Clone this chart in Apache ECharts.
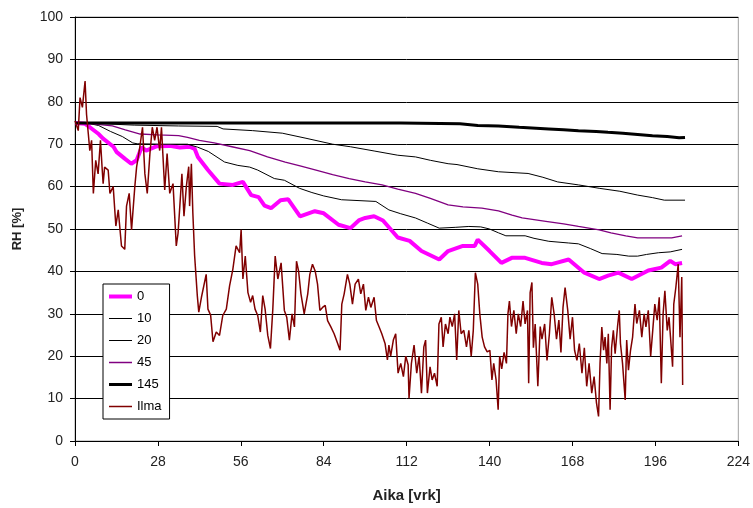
<!DOCTYPE html>
<html>
<head>
<meta charset="utf-8">
<title>RH</title>
<script src="https://cdn.jsdelivr.net/npm/echarts@6/dist/echarts.min.js"></script>
<style>
  html, body { margin: 0; padding: 0; background: #fff; }
  #chart { width: 753px; height: 508px; }
</style>
</head>
<body>
<div id="chart"></div>
<script>
// Relative humidity [%] against age [days] at depths 0, 10, 20, 45 and 145 mm, plus outdoor air.
var seriesNames = ['0', '10', '20', '45', '145', 'Ilma'];

var rh0 = [[0,75],[3.4,74.8],[5,74],[8,72.4],[9.5,71.3],[13,69.4],[14,68.2],[16.8,66.6],[19,65.4],[20.8,66.2],[22.5,69.3],[24,68.5],[27.5,69.5],[32,69.6],[35.4,69.2],[38.7,69.4],[40.4,68.9],[41.5,67],[44.9,63.9],[48.8,60.7],[53.3,60.4],[56.7,61.1],[59.5,58],[62,57.5],[64,55.5],[66.2,54.9],[69.4,56.8],[72,57],[76,53],[81,54.2],[84,53.7],[89,51],[93,50.2],[96,52.1],[98,52.6],[101,53],[104,52],[109,48],[113,47.2],[117,44.8],[123,42.8],[126,44.8],[131,46],[135,46],[136,47.5],[140,44.8],[144,42],[147.5,43.2],[152,43.2],[157.6,42],[161,41.7],[166.7,42.8],[172,39.7],[177,38.2],[180,39],[183.5,39.7],[188,38.2],[193.6,40.2],[198,40.9],[201,42.5],[202.7,41.7],[205,42]];

var rh10 = [[0,75],[10,74.8],[20,74.5],[35,74.3],[48,74.2],[50,73.6],[60,73.2],[70,72.6],[78,71.4],[87,70],[93,69.4],[101,68.4],[109,67.4],[115,67],[120,66.2],[126,65.4],[129,65.2],[136,64.2],[143,63.5],[153,63.1],[158,62.2],[163,61.1],[170,60.4],[177,59.6],[184,58.9],[190,58],[195,57.4],[199,56.8],[206,56.8]];

var rh20 = [[0,75],[4,75],[8,74.4],[12,73],[16,71.8],[19.5,70.3],[21,70.1],[30,70],[38,70],[41.4,69.3],[45,68.3],[50.5,65.8],[55,65],[59,64.6],[61.7,63.9],[67.3,61.9],[70.7,61.5],[75.8,59.6],[80,58.6],[84,57.8],[90,56.9],[101.6,56.5],[106,54.5],[110,53.6],[115,52.6],[119,51.4],[123,50.2],[128.6,50.4],[133,50.6],[137,50.5],[140,50],[143,49.1],[145.5,48.4],[152,48.4],[155,47.8],[160,47.1],[166.7,46.7],[170,46.5],[174,45.4],[178,44.2],[183,44],[187,43.6],[190,43.6],[193,44],[197,44.4],[201,44.6],[205,45.2]];

var rh45 = [[0,75],[6,74.8],[12.6,74.3],[17,73.4],[22,72.4],[28,72.2],[35,72],[38,71.6],[42,70.9],[47,70.3],[53,69.4],[59,68.5],[65,67],[71,65.8],[76,64.9],[81.4,63.9],[87,62.8],[92.6,61.9],[98,61.1],[103.7,60.4],[109,59.4],[115,58.4],[120,57.2],[126,55.7],[131,55.2],[137.4,54.9],[143,54.3],[147.6,53.3],[151,52.6],[159,51.8],[165,51.2],[170,50.6],[177,49.8],[181,49.1],[186,48.4],[190,47.9],[196,47.9],[201.5,47.9],[205,48.4]];

var rh145 = [[0,75],[40,75],[80,75],[110,75],[130,74.8],[136,74.4],[143,74.3],[150,74],[160,73.6],[165,73.4],[170,73.2],[176,73],[180,72.8],[185,72.6],[190,72.3],[195,72],[200,71.8],[204,71.5],[206,71.6]];

var rhIlma = [[0,75.5],[1.1,73.2],[1.7,81],[2.5,78.7],[3.4,84.9],[3.9,77],[4.5,72.4],[5,68.5],[5.6,70.9],[6.2,58.4],[7,66.2],[7.8,63],[8.6,70.9],[9.2,63.9],[9.5,60.7],[10,64.6],[11.2,63.9],[11.8,58.4],[12.9,60],[13.8,50.7],[14.6,54.5],[15.7,46],[16.8,45.2],[17.4,55.4],[18.3,58.4],[19.1,49.8],[20.2,60],[20.8,64.6],[21.9,69.4],[22.8,74],[23.6,63],[24.4,58.4],[25.3,67.8],[26.1,74],[26.9,70.9],[27.7,74],[28.6,68.5],[29.2,74],[30.3,59.2],[31.1,67.8],[32,58.4],[33.1,60.7],[34.2,46],[34.8,49],
[35.4,55.4],[36.1,63],[36.8,53],[37.6,60],[38.4,64.7],[38.7,55.4],[39.3,65.4],[39.8,53.7],[40.4,43.7],[41.3,34.3],[41.8,30.4],[42.7,33.9],[44.3,39.3],[44.9,31.1],[45.8,29.7],[46.6,23.4],[47.7,25.7],[48.8,24.9],[49.9,29.6],[51.1,31.1],[52.2,36.6],[53.3,40.5],[54.4,46],[55.6,44.4],[56.1,49.8],[56.7,38.2],[57.5,43.6],[58.4,35],[59.3,32.7],[60,34.3],[60.8,31.1],[61.7,29.6],[62.6,25.7],[63.4,34.3],[64.2,31.1],[65.1,24.9],[66,21.8],[66.8,31.1],[67.6,43.6],[68.5,38.2],[69.6,42],
[70.7,30.8],[71.5,29.2],[72.4,23.8],[73.3,30],[74.1,26.9],[74.8,42.4],[75.5,40.1],[76.3,34.7],[77.4,30],[78.6,34.7],[79.3,39.3],[80.2,41.7],[81.1,40.1],[81.9,37],[82.7,30.8],[83.6,31.5],[84.5,32],[85.3,28.4],[86.4,26.9],[87.5,25.3],[88.7,23],[89.5,21.4],[90.1,32.3],[90.9,34.7],[92,39.3],[92.8,37],[93.7,32.3],[94.6,37],[95.7,38.2],[96.5,34.7],[97.4,37],[98.2,30.8],[99.1,33.9],[99.9,31.5],[101,33.9],[101.8,28.4],[102.7,26.9],[103.6,25.3],[104.7,23],[105.5,19.1],
[106,22.6],[106.6,20],[107.5,23.8],[108.3,25.3],[109.1,16],[110,18.3],[110.9,15.2],[111.7,20],[112.5,18],[112.8,10.1],[113.6,18.3],[114.5,22.6],[115.4,16],[116.2,20],[117,11.3],[117.8,22.2],[118.4,23.8],[119,11.3],[119.9,17.5],[120.6,14.4],[121.4,16],[122.3,12.9],[122.9,27.6],[123.7,29.2],[124.3,22.2],[125.1,27.6],[126,25.3],[126.6,29.2],[127.4,27],[128.2,30],[128.9,19.1],[129.6,30.8],[130.4,25.3],[131.3,26.1],[132.2,22.2],[133,26.1],[133.8,20],[134.5,26.1],[135.2,39.7],[136,37],[136.7,30],[137.5,24.5],[138.3,22.2],[139.2,21],[140.1,21.4],[140.8,14.4],
[141.4,18.3],[142.2,14.4],[142.9,7.4],[143.4,20],[144.1,17],[144.9,20.9],[145.7,18.3],[146.2,30],[146.7,33],[147.4,27],[148.2,30.8],[149,25.3],[149.7,30],[150.5,27],[151.3,33],[152,27.6],[152.8,30.8],[153.2,13.6],[153.7,35],[154.3,37.4],[154.8,22],[155.4,27.6],[156.3,12.9],[157.1,27],[157.7,24],[158.6,27.6],[159.4,19],[160.2,25.3],[161,33.9],[161.8,30],[162.6,24],[163.4,28.5],[164.1,20.9],[164.8,31.5],[165.5,36.2],[166.4,30.8],[167.2,24],[168,29.2],[168.7,21.4],[169.5,19],[170.3,23],[171.2,16],[172,22],[172.8,12.9],[173.6,18.3],[174.5,11.3],[175.3,15.2],[176.1,9],
[176.8,5.8],[177.3,18.3],[177.9,26.9],[178.5,21.4],[179,24.5],[179.6,18.3],[180.1,25.3],[180.7,7.4],[181.2,22],[181.8,26.1],[182.4,20.6],[183.2,26.9],[183.8,30.8],[184.2,23],[184.9,18.3],[185.8,9.7],[186.3,23.8],[186.9,16.7],[187.6,21.4],[188.3,24.5],[189.1,32.3],[189.7,27.7],[190.6,30.8],[191.4,24.5],[192.2,30],[192.8,26.9],[193.6,30.8],[194.4,20],[195.1,26.1],[195.8,32.3],[196.6,28.5],[197.3,33.9],[198,13.6],[198.6,30],[199.2,35.4],[200,26.1],[200.6,29.2],[201.1,24.5],[201.8,17.5],[202.2,32.3],[202.9,36.2],[203.7,41.7],[204.3,24.5],[204.9,38.7],[205.2,13.2]];

var seriesData = [rh0, rh10, rh20, rh45, rh145, rhIlma];
var seriesColors = ['#ff00ff', '#000000', '#000000', '#800080', '#000000', '#800000'];
var seriesWidths = [4, 1, 1, 1.3, 3, 1.5];

var FONT = '"Liberation Sans", Arial, sans-serif';

var chart = echarts.init(document.getElementById('chart'), null, { renderer: 'canvas' });

chart.setOption({
  animation: false,
  backgroundColor: '#ffffff',
  grid: {
    left: 75, right: 13, top: 17, bottom: 63,
    show: true, borderColor: '#a0a0a0', borderWidth: 1, backgroundColor: 'transparent'
  },
  legend: {
    orient: 'vertical',
    left: 103, top: 284,
    padding: [6, 8, 6, 4],
    itemGap: 9,
    itemWidth: 23,
    itemHeight: 14,
    borderColor: '#000', borderWidth: 1,
    backgroundColor: '#fff',
    itemStyle: { opacity: 0 },
    textStyle: { fontFamily: FONT, fontSize: 13, color: '#000' },
    data: seriesNames.map(function (name, i) {
      return {
        name: name,
        lineStyle: { color: seriesColors[i], width: seriesWidths[i] === 1.3 ? 1.5 : seriesWidths[i] }
      };
    })
  },
  xAxis: {
    type: 'value',
    min: 0, max: 224, interval: 28,
    name: 'Aika [vrk]',
    nameLocation: 'middle',
    nameGap: 47,
    nameTextStyle: { fontFamily: FONT, fontSize: 15, fontWeight: 'bold', color: '#222' },
    axisLine: { show: true, onZero: false, lineStyle: { color: '#000', width: 1 } },
    axisTick: { show: true, inside: false, length: 5, lineStyle: { color: '#000' } },
    axisLabel: { fontFamily: FONT, fontSize: 14, color: '#222', margin: 14 },
    splitLine: { show: false }
  },
  yAxis: {
    type: 'value',
    min: 0, max: 100, interval: 10,
    name: 'RH [%]',
    nameLocation: 'middle',
    nameGap: 51,
    nameRotate: 90,
    nameTextStyle: { fontFamily: FONT, fontSize: 13, fontWeight: 'bold', color: '#222' },
    axisLine: { show: true, lineStyle: { color: '#000', width: 1 } },
    axisTick: { show: true, inside: false, length: 5, lineStyle: { color: '#000' } },
    axisLabel: { fontFamily: FONT, fontSize: 14, color: '#222', margin: 12 },
    splitLine: { show: true, lineStyle: { color: '#000', width: 1 } }
  },
  series: seriesNames.map(function (name, i) {
    return {
      name: name,
      type: 'line',
      data: seriesData[i],
      showSymbol: false,
      symbol: 'none',
      smooth: false,
      color: seriesColors[i],
      lineStyle: { color: seriesColors[i], width: seriesWidths[i] },
      z: 2 + i
    };
  })
});
</script>
</body>
</html>
